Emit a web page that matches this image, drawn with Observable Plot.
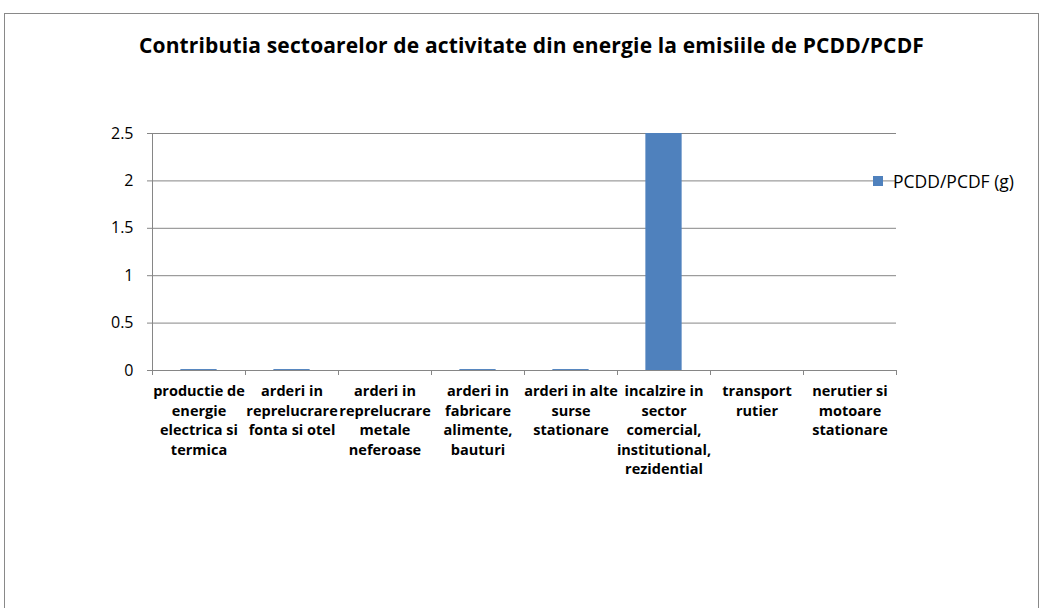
<!DOCTYPE html>
<html>
<head>
<meta charset="utf-8">
<script src="https://cdn.jsdelivr.net/npm/d3@7"></script>
<script src="https://cdn.jsdelivr.net/npm/@observablehq/plot@0.6"></script>
<style>
  html, body { margin: 0; padding: 0; background: #fff; }
  #wrap { position: relative; width: 1045px; height: 608px; overflow: hidden; font-family: "Open Sans", sans-serif; }
  #frame { position: absolute; left: 4px; top: 13px; width: 1035px; height: 640px; border: 1px solid #898989; box-sizing: border-box; }
  #title { position: absolute; left: 18px; top: 30px; width: 1027px; text-align: center; font-weight: bold; font-size: 21px; color: #000; line-height: 30px; letter-spacing: 0.15px; }
  #chart { position: absolute; left: 0; top: 0; }
  #legend { position: absolute; left: 873px; top: 170px; font-size: 17.5px; color: #000; display: flex; align-items: center; white-space: nowrap; line-height: 22px; }
  #legend .sw { width: 10px; height: 10px; background: #4f81bd; margin-right: 10px; }
</style>
</head>
<body>
<div id="wrap">
  <div id="frame"></div>
  <div id="chart"></div>
  <div id="title"></div>
  <div id="legend"></div>
</div>
<script>
const titleText = "Contributia sectoarelor de activitate din energie la emisiile de PCDD/PCDF";
const seriesName = "PCDD/PCDF (g)";
const categories = [
  "productie de energie electrica si termica",
  "arderi in reprelucrare fonta si otel",
  "arderi in reprelucrare metale neferoase",
  "arderi in fabricare alimente, bauturi",
  "arderi in alte surse stationare",
  "incalzire in sector comercial, institutional, rezidential",
  "transport rutier",
  "nerutier si motoare stationare"
];
const values = [0.01, 0.01, 0, 0.01, 0.01, 2.5, 0, 0];
const tickLabels = [
  "productie de\nenergie\nelectrica si\ntermica",
  "arderi in\nreprelucrare\nfonta si otel",
  "arderi in\nreprelucrare\nmetale\nneferoase",
  "arderi in\nfabricare\nalimente,\nbauturi",
  "arderi in alte\nsurse\nstationare",
  "incalzire in\nsector\ncomercial,\ninstitutional,\nrezidential",
  "transport\nrutier",
  "nerutier si\nmotoare\nstationare"
];
const yTicks = [0, 0.5, 1, 1.5, 2, 2.5];
const yTickLabels = ["0", "0.5", "1", "1.5", "2", "2.5"];

const data = categories.map((c, i) => ({category: c, index: i, value: values[i], label: tickLabels[i]}));
const boundaries = d3.range(categories.length + 1);
const barHalf = 0.195;
const grid = "#868686";
const barColor = "#4f81bd";

const chart = Plot.plot({
  width: 1045,
  height: 608,
  marginLeft: 152,
  marginRight: 149,
  marginTop: 133,
  marginBottom: 238,
  style: {fontFamily: "'Open Sans', sans-serif", background: "transparent", color: "#000"},
  x: {type: "linear", domain: [0, categories.length], axis: null, label: null},
  y: {domain: [0, 2.5], axis: null, label: null},
  marks: [
    Plot.ruleY(yTicks, {stroke: grid, strokeWidth: 1}),
    Plot.ruleX([0], {stroke: grid, strokeWidth: 1}),
    Plot.axisY({ticks: yTicks, tickSize: 5, tickPadding: 14, fontSize: 16, stroke: grid, fill: "#000", label: null,
      tickFormat: (d) => yTickLabels[yTicks.indexOf(d)]}),
    Plot.axisX({ticks: boundaries, tickSize: 5, stroke: grid, label: null, tickFormat: () => ""}),
    Plot.rectY(data, {x1: (d) => d.index + 0.5 - barHalf, x2: (d) => d.index + 0.5 + barHalf, y: "value", fill: barColor, title: "category"}),
    Plot.text(data, {x: (d) => d.index + 0.5, y: () => 0, text: "label", lineAnchor: "top", dy: 12,
      fontWeight: "bold", fontSize: 14.5, lineHeight: 1.345, fill: "#000"})
  ]
});
document.getElementById("chart").appendChild(chart);
document.getElementById("title").textContent = titleText;
const lg = document.getElementById("legend");
lg.innerHTML = '<span class="sw"></span><span></span>';
lg.lastChild.textContent = seriesName;
</script>
</body>
</html>
